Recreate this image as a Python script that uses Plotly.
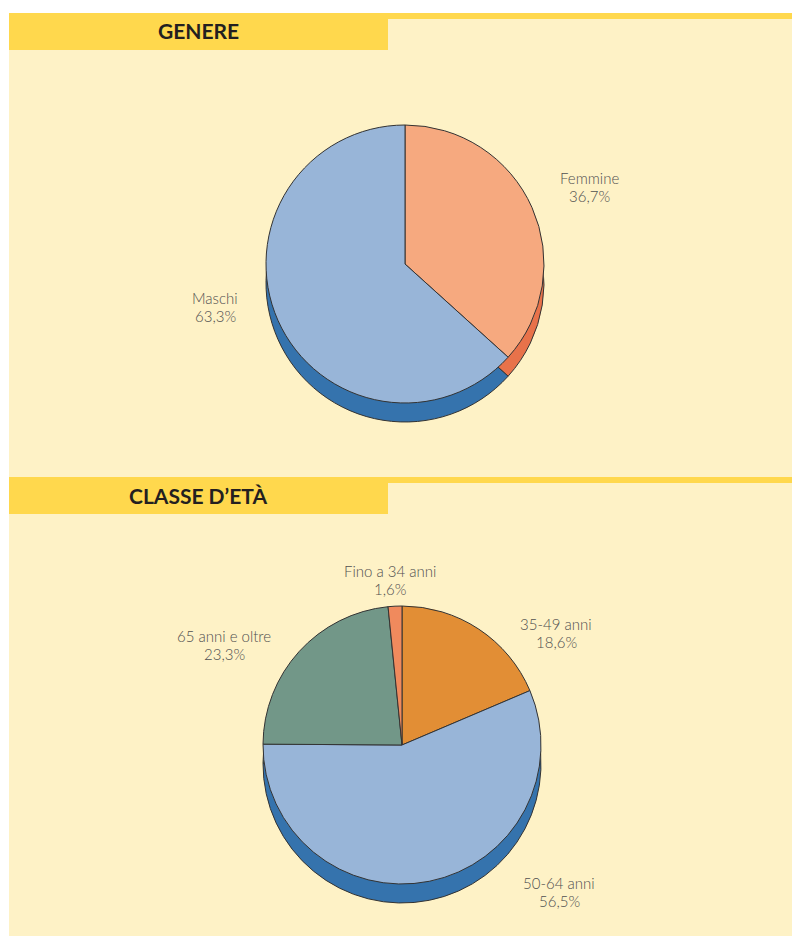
import plotly.graph_objects as go

# ==========================
# DATA
# ==========================
GENDER_LABELS = ["Femmine", "Maschi"]
GENDER_VALUES = [36.7, 63.3]
GENDER_TOP = ["#F6A97F", "#98B5D8"]
GENDER_SIDE = ["#E8724A", "#3573AD"]

AGE_LABELS = ["35-49 anni", "50-64 anni", "65 anni e oltre", "Fino a 34 anni"]
AGE_VALUES = [18.6, 56.5, 23.3, 1.6]
AGE_TOP = ["#E28E35", "#98B5D8", "#729788", "#F08A5D"]
AGE_SIDE = ["#B96B22", "#3573AD", "#4F7263", "#C9603A"]

SECTION_TITLES = ["GENERE", "CLASSE D\u2019ET\u00c0"]

# ==========================
# LAYOUT CONSTANTS (page pixels)
# ==========================
W, H = 792, 936
CREAM = "#FEF2C6"
YELLOW = "#FFD84D"
TEXT_GREY = "#505050"
RADIUS = 139
DEPTH = 19


def px_x(x):
    return x / W


def px_y(y):
    return 1 - y / H


def pie_domain(cx, cy, r):
    return dict(x=[px_x(cx - r), px_x(cx + r)], y=[px_y(cy + r), px_y(cy - r)])


def fmt(v):
    return f"{v:.1f}".replace(".", ",") + "%"


fig = go.Figure()

pies = [
    (GENDER_LABELS, GENDER_VALUES, GENDER_TOP, GENDER_SIDE, 405, 264),
    (AGE_LABELS, AGE_VALUES, AGE_TOP, AGE_SIDE, 402, 745),
]

for labels, values, top, side, cx, cy in pies:
    # side of the "3D" disc: a darker copy shifted down
    fig.add_trace(go.Pie(
        labels=labels, values=values, sort=False, direction="clockwise",
        rotation=0, textinfo="none", hoverinfo="skip", showlegend=False,
        marker=dict(colors=side, line=dict(color="#333333", width=1)),
        domain=pie_domain(cx, cy + DEPTH, RADIUS),
    ))
    fig.add_trace(go.Pie(
        labels=labels, values=values, sort=False, direction="clockwise",
        rotation=0, textinfo="none", showlegend=False,
        hovertemplate="%{label}: %{value}%<extra></extra>",
        marker=dict(colors=top, line=dict(color="#333333", width=1)),
        domain=pie_domain(cx, cy, RADIUS),
    ))

# ==========================
# BACKGROUND & HEADERS
# ==========================
shapes = [
    dict(type="rect", xref="paper", yref="paper", layer="below",
         x0=px_x(9), x1=1, y0=0, y1=px_y(13),
         fillcolor=CREAM, line=dict(width=0)),
]
for top_y in [13, 477]:
    shapes.append(dict(type="rect", xref="paper", yref="paper", layer="below",
                       x0=px_x(9), x1=px_x(388), y0=px_y(top_y + 37), y1=px_y(top_y),
                       fillcolor=YELLOW, line=dict(width=0)))
    shapes.append(dict(type="rect", xref="paper", yref="paper", layer="below",
                       x0=px_x(388), x1=1, y0=px_y(top_y + 6), y1=px_y(top_y),
                       fillcolor=YELLOW, line=dict(width=0)))

annotations = []
for title, ty in zip(SECTION_TITLES, [31, 495]):
    annotations.append(dict(
        text=f"<b>{title}</b>", x=px_x(198), y=px_y(ty), xref="paper", yref="paper",
        showarrow=False, xanchor="center", yanchor="middle",
        font=dict(family="Lato", size=21, color="#231F20", weight=900),
    ))

# slice labels, placed where the reference puts them (centre of the two lines)
label_pos = {
    "Femmine": (589, 187), "Maschi": (215, 307),
    "Fino a 34 anni": (390, 580), "35-49 anni": (556, 633),
    "65 anni e oltre": (224, 645), "50-64 anni": (559, 892),
}
for labels, values in [(GENDER_LABELS, GENDER_VALUES), (AGE_LABELS, AGE_VALUES)]:
    for lab, val in zip(labels, values):
        lx, ly = label_pos[lab]
        for txt, dy in [(lab, -9), (fmt(val), 9)]:
            annotations.append(dict(
                text=txt, x=px_x(lx), y=px_y(ly + dy),
                xref="paper", yref="paper", showarrow=False,
                xanchor="center", yanchor="middle", align="center",
                font=dict(family="Lato", size=15, color=TEXT_GREY, weight=300),
            ))

fig.update_layout(
    width=W, height=H,
    margin=dict(l=0, r=0, t=0, b=0),
    paper_bgcolor="white",
    plot_bgcolor="white",
    shapes=shapes,
    annotations=annotations,
)

# drop the default page margin so the figure fills the window exactly
fig.write_html(
    "out.html",
    config={"displayModeBar": False},
    post_script="document.body.style.margin='0';document.body.style.overflow='hidden';",
)
